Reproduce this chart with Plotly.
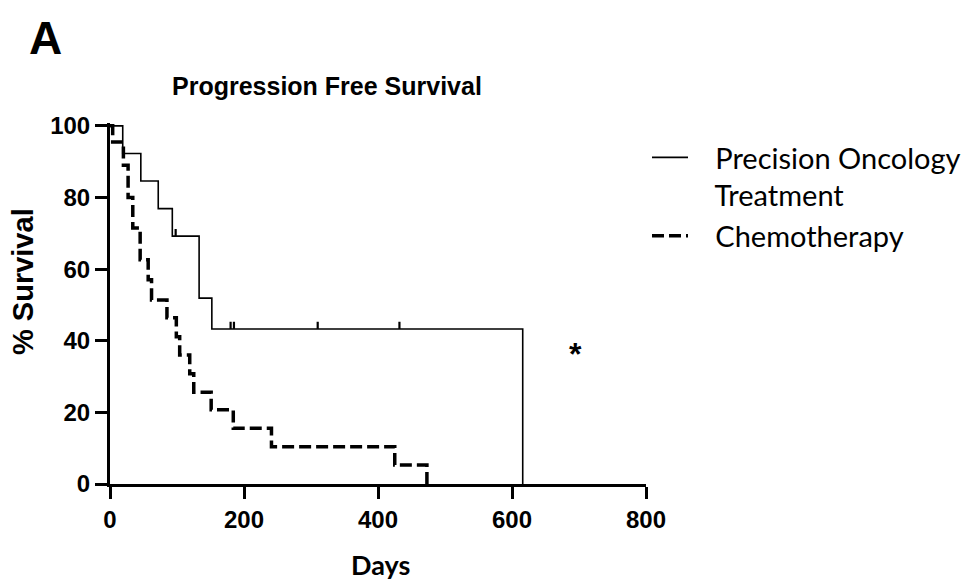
import plotly.graph_objects as go

# Precision Oncology Treatment (Kaplan-Meier steps)
po_days = [0, 19, 46, 72, 93, 133, 152, 616]
po_surv = [100, 92.3, 84.6, 76.9, 69.2, 51.9, 43.3, 0]
po_censor_days = [98, 180, 185, 310, 432]
po_censor_surv = [69.2, 43.3, 43.3, 43.3, 43.3]

# Chemotherapy
ch_days = [0, 4, 20, 27, 34, 45, 57, 62, 85, 99, 104, 119, 125, 151, 184, 241, 425, 473]
ch_surv = [100, 95.5, 89, 80, 71.5, 62.6, 57, 51.4, 46.4, 41.1, 36, 30.8, 25.6, 20.7, 15.6, 10.4, 5.3, 0]

x_ticks = [0, 200, 400, 600, 800]
y_ticks = [0, 20, 40, 60, 80, 100]
tick_len_units = 2.0  # censor tick height in % units

SP = "\u00a0\u00a0\u00a0"

fig = go.Figure()

fig.add_trace(go.Scatter(
    x=po_days, y=po_surv, mode="lines", line_shape="hv",
    line=dict(color="black", width=1.6),
    name=SP + "Precision Oncology<br>" + SP + "Treatment"))

cx, cy = [], []
for d, s in zip(po_censor_days, po_censor_surv):
    cx += [d, d, None]
    cy += [s, s + tick_len_units, None]
fig.add_trace(go.Scatter(x=cx, y=cy, mode="lines", line=dict(color="black", width=2.2),
                         showlegend=False, hoverinfo="skip"))

fig.add_trace(go.Scatter(
    x=ch_days, y=ch_surv, mode="lines", line_shape="hv",
    line=dict(color="black", width=3.5, dash="12px,5px"),
    name=SP + "Chemotherapy"))

OFF = 8  # page body margin
W, H = 973, 581
# target page coordinates of plot area
PL, PR, PT, PB = 110, 646, 123, 484
L, T = PL - OFF, PT - OFF
R = W - (PR - OFF)
B = H - (PB - OFF)
pw, ph = W - L - R, H - T - B

def px(xp):
    return (xp - OFF - L) / pw

def py(yp):
    return (H - B - (yp - OFF)) / ph

axis_common = dict(showline=True, linewidth=3, linecolor="black", ticks="outside",
                   ticklen=12, tickwidth=3, tickcolor="black", showgrid=False,
                   zeroline=False, automargin=False,
                   tickfont=dict(family="Liberation Sans", size=24, color="black", weight="bold"))

fig.update_layout(
    width=W, height=H,
    margin=dict(l=L, r=R, t=T, b=B, autoexpand=False),
    paper_bgcolor="white", plot_bgcolor="white",
    xaxis=dict(range=[0, 800], tickvals=x_ticks, **axis_common),
    yaxis=dict(range=[0, 100.8], tickvals=y_ticks, **axis_common),
    legend=dict(x=px(647), y=py(132), xanchor="left", yanchor="top",
                font=dict(family="Lato", size=29, color="black"),
                itemwidth=36, valign="top", tracegroupgap=5,
                bgcolor="rgba(0,0,0,0)"),
    annotations=[
        dict(text="A", x=px(45), y=py(38), xref="paper", yref="paper", showarrow=False,
             xanchor="center", yanchor="middle",
             font=dict(family="Liberation Sans", size=46, color="black", weight="bold")),
        dict(text="Progression Free Survival", x=px(327), y=py(86), xref="paper", yref="paper",
             showarrow=False, xanchor="center", yanchor="middle",
             font=dict(family="Liberation Sans", size=25, color="black", weight="bold")),
        dict(text="% Survival", x=px(23), y=py(282), xref="paper", yref="paper", showarrow=False,
             textangle=-90, xanchor="center", yanchor="middle",
             font=dict(family="Liberation Sans", size=29, color="black", weight="bold")),
        dict(text="Days", x=px(380), y=py(564), xref="paper", yref="paper", showarrow=False,
             xanchor="center", yanchor="middle",
             font=dict(family="Lato", size=27, color="black", weight="bold")),
        dict(text="*", x=695, y=36.3, xref="x", yref="y", showarrow=False,
             xanchor="center", yanchor="middle",
             font=dict(family="Liberation Sans", size=32, color="black", weight="bold")),
    ],
)

fig.write_html("out.html")
